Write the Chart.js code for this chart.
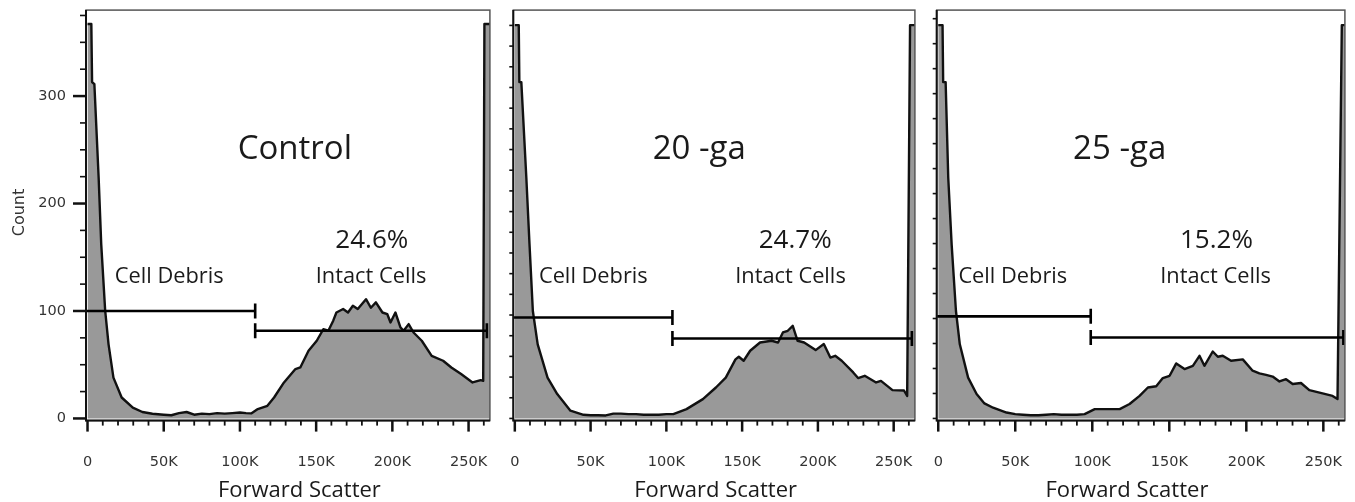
<!DOCTYPE html>
<html>
<head>
<meta charset="utf-8">
<title>Forward Scatter</title>
<script src="https://cdn.jsdelivr.net/npm/chart.js@4.4.1/dist/chart.umd.min.js"></script>
<style>
  body { margin: 0; background: #fff; }
  #wrap { position: relative; width: 1355px; height: 502px; overflow: hidden; }
  #wrap canvas { position: absolute; top: 0; }
</style>
</head>
<body>
<div id="wrap">
  <canvas id="controlCanvas" width="500" height="502" style="left:0px"></canvas>
  <canvas id="ga20Canvas" width="425" height="502" style="left:500px"></canvas>
  <canvas id="ga25Canvas" width="430" height="502" style="left:925px"></canvas>
</div>
<script>
// forward scatter channel (in K) and counts
const controlFsc = [0, 2.5, 3, 4.5, 7.3, 9, 11.6, 13.8, 17, 22.4, 29.7, 36, 42.6, 50, 55, 60, 65, 70, 75, 80,
  85, 90, 95, 100, 104, 107.4, 111.7, 118, 122.4, 128.9, 136.4, 139.6, 145, 150.4, 154.7, 158, 161.2, 163.3,
  167.7, 170.9, 174.1, 177.3, 182.7, 185.9, 189.2, 193.5, 196.7, 198.8, 202, 205.3, 207.4, 210.7, 213.9,
  219.3, 225.8, 233.3, 238.7, 245.1, 252.6, 258, 259.6, 260.4, 264];
const controlCount = [367, 367, 313, 311, 224, 162, 100, 69, 38, 19.5, 10, 6, 4.4, 3.5, 3, 5, 6, 3.5, 4.5, 4,
  5, 4.5, 5, 5.5, 5, 4.7, 8.7, 11.8, 19.5, 33.5, 46, 47.5, 63, 72.3, 83, 81.6, 91, 98.6,
  101.8, 98.6, 104.8, 101.8, 111, 103, 108, 98.6, 97, 89.3, 98.6, 84.7, 81.6, 87.8, 80,
  72.3, 58.3, 53.7, 47.4, 41.3, 33.5, 35.7, 35, 367, 367];

const ga20Fsc = [0, 2.6, 3, 4.3, 7.6, 9.7, 11.9, 15.1, 21.6, 28, 36.7, 45.3, 50, 55, 60, 65, 70, 75, 80, 85,
  90, 95, 100, 104.6, 113.3, 124.1, 132.7, 139.2, 145.6, 147.8, 151, 155.3, 161.8, 169.4, 173.7, 176.9,
  180.1, 183.4, 186.6, 190.9, 198.5, 203.9, 208.2, 211.4, 215.7, 223.3, 226.5, 230.9, 238.4, 241.6,
  249.2, 256.8, 258.9, 260.8, 264];
const ga20Count = [366, 366, 313, 313, 224, 162, 100, 69, 38, 22.7, 7.2, 3.4, 3, 3, 2.8, 4.5, 4.5, 4, 4, 3.5,
  3.5, 3.5, 4, 4, 8.7, 18, 28.8, 38, 55, 57.4, 53.7, 63, 70.7, 72.3, 70.7, 80,
  81.6, 86.2, 72.3, 70.7, 63.6, 69.2, 56.7, 58.3, 53.7, 42.8, 37.6, 39.7, 33.5, 35,
  26.4, 26, 21, 366, 366];

const ga25Fsc = [0, 2.8, 3.2, 4.8, 6.5, 8.7, 11.5, 14, 19.4, 24.9, 30, 35.6, 44.3, 50, 55, 60, 65, 70, 75, 80,
  85, 90, 95, 101.6, 117.8, 124.2, 130.7, 136.1, 141.5, 145.8, 150.2, 154.5, 159.9, 165.3, 169.6, 172.8,
  178.2, 181.5, 184.7, 190.1, 197.7, 204.1, 208.5, 212.8, 217.1, 221.5, 225.8, 230.1, 235.5, 240.9,
  249.5, 256, 259.2, 262, 264];
const ga25Count = [366, 366, 313, 313, 224, 162, 100, 69, 38, 22.7, 14, 10, 5.5, 4, 3.5, 3, 3, 3.5, 4, 3.5,
  3.5, 3.5, 4, 8.7, 8.7, 13.4, 21, 28.8, 30, 37.6, 39.7, 51.2, 46, 49, 58.3, 49,
  62.3, 57.4, 58.3, 53.7, 55, 44.4, 42, 40.6, 39, 34.4, 36.5, 32, 33, 26.4,
  23.3, 21, 18, 366, 366];

const panelTitles = ["Control", "20 -ga", "25 -ga"];
const intactPercent = ["24.6%", "24.7%", "15.2%"];

// gates: debris runs from the left edge to the split, intact cells from the split to the end
const gateSplit = [110, 104, 99];
const gateEnd = [262, 262, 263];
const debrisGateCount = [100, 94, 95];
const intactGateCount = [81.6, 74.4, 75.3];

const xTickValues = [0, 50, 100, 150, 200, 250];
const xTickLabels = ["0", "50K", "100K", "150K", "200K", "250K"];
const yTickValues = [0, 100, 200, 300];
const yTickLabels = ["0", "100", "200", "300"];

// panel layout (pixels / anchor points), kept apart from the data
const panels = [
  { id: "controlCanvas", fsc: controlFsc, count: controlCount, axisW: 86, padR: 4.5, yStep: 25, showY: true,
    titleAt: [136, 241.6], pctAt: [186.5, 158.5], intactAt: [186, 126.5], debrisAt: [53.6, 126.5], xTitleAt: 139 },
  { id: "ga20Canvas", fsc: ga20Fsc, count: ga20Count, axisW: 13.3, padR: 2.5, yStep: 19.25, showY: false,
    titleAt: [121.7, 241.3], pctAt: [185, 158.5], intactAt: [181.9, 126.5], debrisAt: [51.8, 126.5], xTitleAt: 132.5 },
  { id: "ga25Canvas", fsc: ga25Fsc, count: ga25Count, axisW: 11.7, padR: 8.5, yStep: 23.25, showY: false,
    titleAt: [117.8, 241.3], pctAt: [180.6, 158.5], intactAt: [180, 126.5], debrisAt: [48.4, 126.5], xTitleAt: 122.5 }
];

const textFont = "'Open Sans', 'Noto Sans', sans-serif";
const tickFont = { family: "'DejaVu Sans', sans-serif", size: 14.5 };

// frame, tick marks and the panel annotations
const facsDecor = {
  id: "facsDecor",
  afterDraw(chart, args, opts) {
    const { ctx, chartArea: a, scales: { x, y } } = chart;
    ctx.save();
    ctx.strokeStyle = "#555";
    ctx.lineWidth = 1.5;
    ctx.strokeRect(a.left, a.top, a.right - a.left, a.bottom - a.top);
    ctx.strokeStyle = "#111";
    ctx.lineWidth = 2;
    ctx.beginPath();
    ctx.moveTo(a.left, a.top);
    ctx.lineTo(a.left, a.bottom);
    ctx.lineTo(a.right, a.bottom);
    ctx.stroke();

    x.ticks.forEach((t) => {
      const px = x.getPixelForValue(t.value);
      const major = xTickValues.includes(t.value);
      ctx.lineWidth = major ? 2.5 : 1.8;
      ctx.beginPath();
      ctx.moveTo(px, a.bottom);
      ctx.lineTo(px, a.bottom + (major ? 11 : 5));
      ctx.stroke();
    });

    y.ticks.forEach((t) => {
      const py = y.getPixelForValue(t.value);
      const major = opts.showY && yTickValues.includes(t.value);
      ctx.lineWidth = major ? 2.5 : 1.6;
      ctx.beginPath();
      ctx.moveTo(a.left, py);
      ctx.lineTo(a.left - (major ? 13 : opts.showY ? 6 : 4), py);
      ctx.stroke();
    });

    ctx.fillStyle = "#1a1a1a";
    ctx.textAlign = "center";
    ctx.textBaseline = "alphabetic";
    opts.notes.forEach((n) => {
      ctx.font = n.size + "px " + textFont;
      ctx.fillText(n.text, x.getPixelForValue(n.at[0]), y.getPixelForValue(n.at[1]));
    });

    ctx.font = "22px " + textFont;
    ctx.fillText("Forward Scatter", x.getPixelForValue(opts.xTitleAt), 496.5);

    if (opts.showY) {
      ctx.save();
      ctx.translate(19.5, 212.5);
      ctx.rotate(-Math.PI / 2);
      ctx.font = "16px 'DejaVu Sans', sans-serif";
      ctx.fillStyle = "#333";
      ctx.textBaseline = "middle";
      ctx.fillText("Count", 0, 0);
      ctx.restore();
    }
    ctx.restore();
  },
};

function makePanel(p, i) {
  const histogram = {
    data: p.fsc.map((v, k) => ({ x: v, y: p.count[k] })),
    borderColor: "#111",
    borderWidth: 2.4,
    borderJoinStyle: "round",
    backgroundColor: "#999999",
    fill: "origin",
    pointRadius: 0,
    tension: 0,
    order: 2,
  };
  const debrisGate = {
    data: [{ x: -1, y: debrisGateCount[i] }, { x: gateSplit[i], y: debrisGateCount[i] }],
    borderColor: "#000",
    borderWidth: 2.6,
    fill: false,
    pointStyle: "line",
    rotation: 90,
    pointRadius: [0, 7.5],
    pointBorderColor: "#000",
    pointBorderWidth: 2.6,
    order: 0,
  };
  const intactGate = {
    data: [{ x: gateSplit[i], y: intactGateCount[i] }, { x: gateEnd[i], y: intactGateCount[i] }],
    borderColor: "#000",
    borderWidth: 2.6,
    fill: false,
    pointStyle: "line",
    rotation: 90,
    pointRadius: 7.5,
    pointBorderColor: "#000",
    pointBorderWidth: 2.6,
    order: 1,
  };

  return new Chart(document.getElementById(p.id), {
    type: "line",
    data: { datasets: [histogram, debrisGate, intactGate] },
    options: {
      responsive: false,
      animation: false,
      devicePixelRatio: 1,
      layout: { padding: { top: 10, right: p.padR, left: 0, bottom: 0 } },
      plugins: {
        legend: { display: false },
        tooltip: { enabled: false },
        facsDecor: {
          showY: p.showY,
          xTitleAt: p.xTitleAt,
          notes: [
            { text: panelTitles[i], at: p.titleAt, size: 33 },
            { text: intactPercent[i], at: p.pctAt, size: 26 },
            { text: "Intact Cells", at: p.intactAt, size: 21.8 },
            { text: "Cell Debris", at: p.debrisAt, size: 21.8 },
          ],
        },
      },
      scales: {
        x: {
          type: "linear",
          min: -1,
          max: 264,
          grid: { display: false, drawTicks: false },
          border: { display: false },
          ticks: {
            stepSize: 10,
            includeBounds: false,
            autoSkip: false,
            maxRotation: 0,
            minRotation: 0,
            padding: 33,
            color: "#333",
            font: tickFont,
            callback: (v) => {
              const k = xTickValues.indexOf(v);
              return k >= 0 ? xTickLabels[k] : "";
            },
          },
          // fixed axis band; drop the label overhang padding Chart.js adds
          afterFit: (scale) => {
            scale.height = 81.4;
            scale.paddingLeft = 0;
            scale.paddingRight = 0;
          },
        },
        y: {
          type: "linear",
          min: -2,
          max: 380,
          grid: { display: false, drawTicks: false },
          border: { display: false },
          ticks: {
            display: p.showY,
            stepSize: p.yStep,
            includeBounds: false,
            autoSkip: false,
            padding: 20,
            color: "#333",
            font: tickFont,
            callback: (v) => {
              const k = yTickValues.indexOf(v);
              return k >= 0 ? yTickLabels[k] : "";
            },
          },
          afterFit: (scale) => {
            scale.width = p.axisW;
            scale.paddingTop = 0;
            scale.paddingBottom = 0;
          },
        },
      },
    },
    plugins: [facsDecor],
  });
}

panels.forEach(makePanel);
</script>
</body>
</html>
